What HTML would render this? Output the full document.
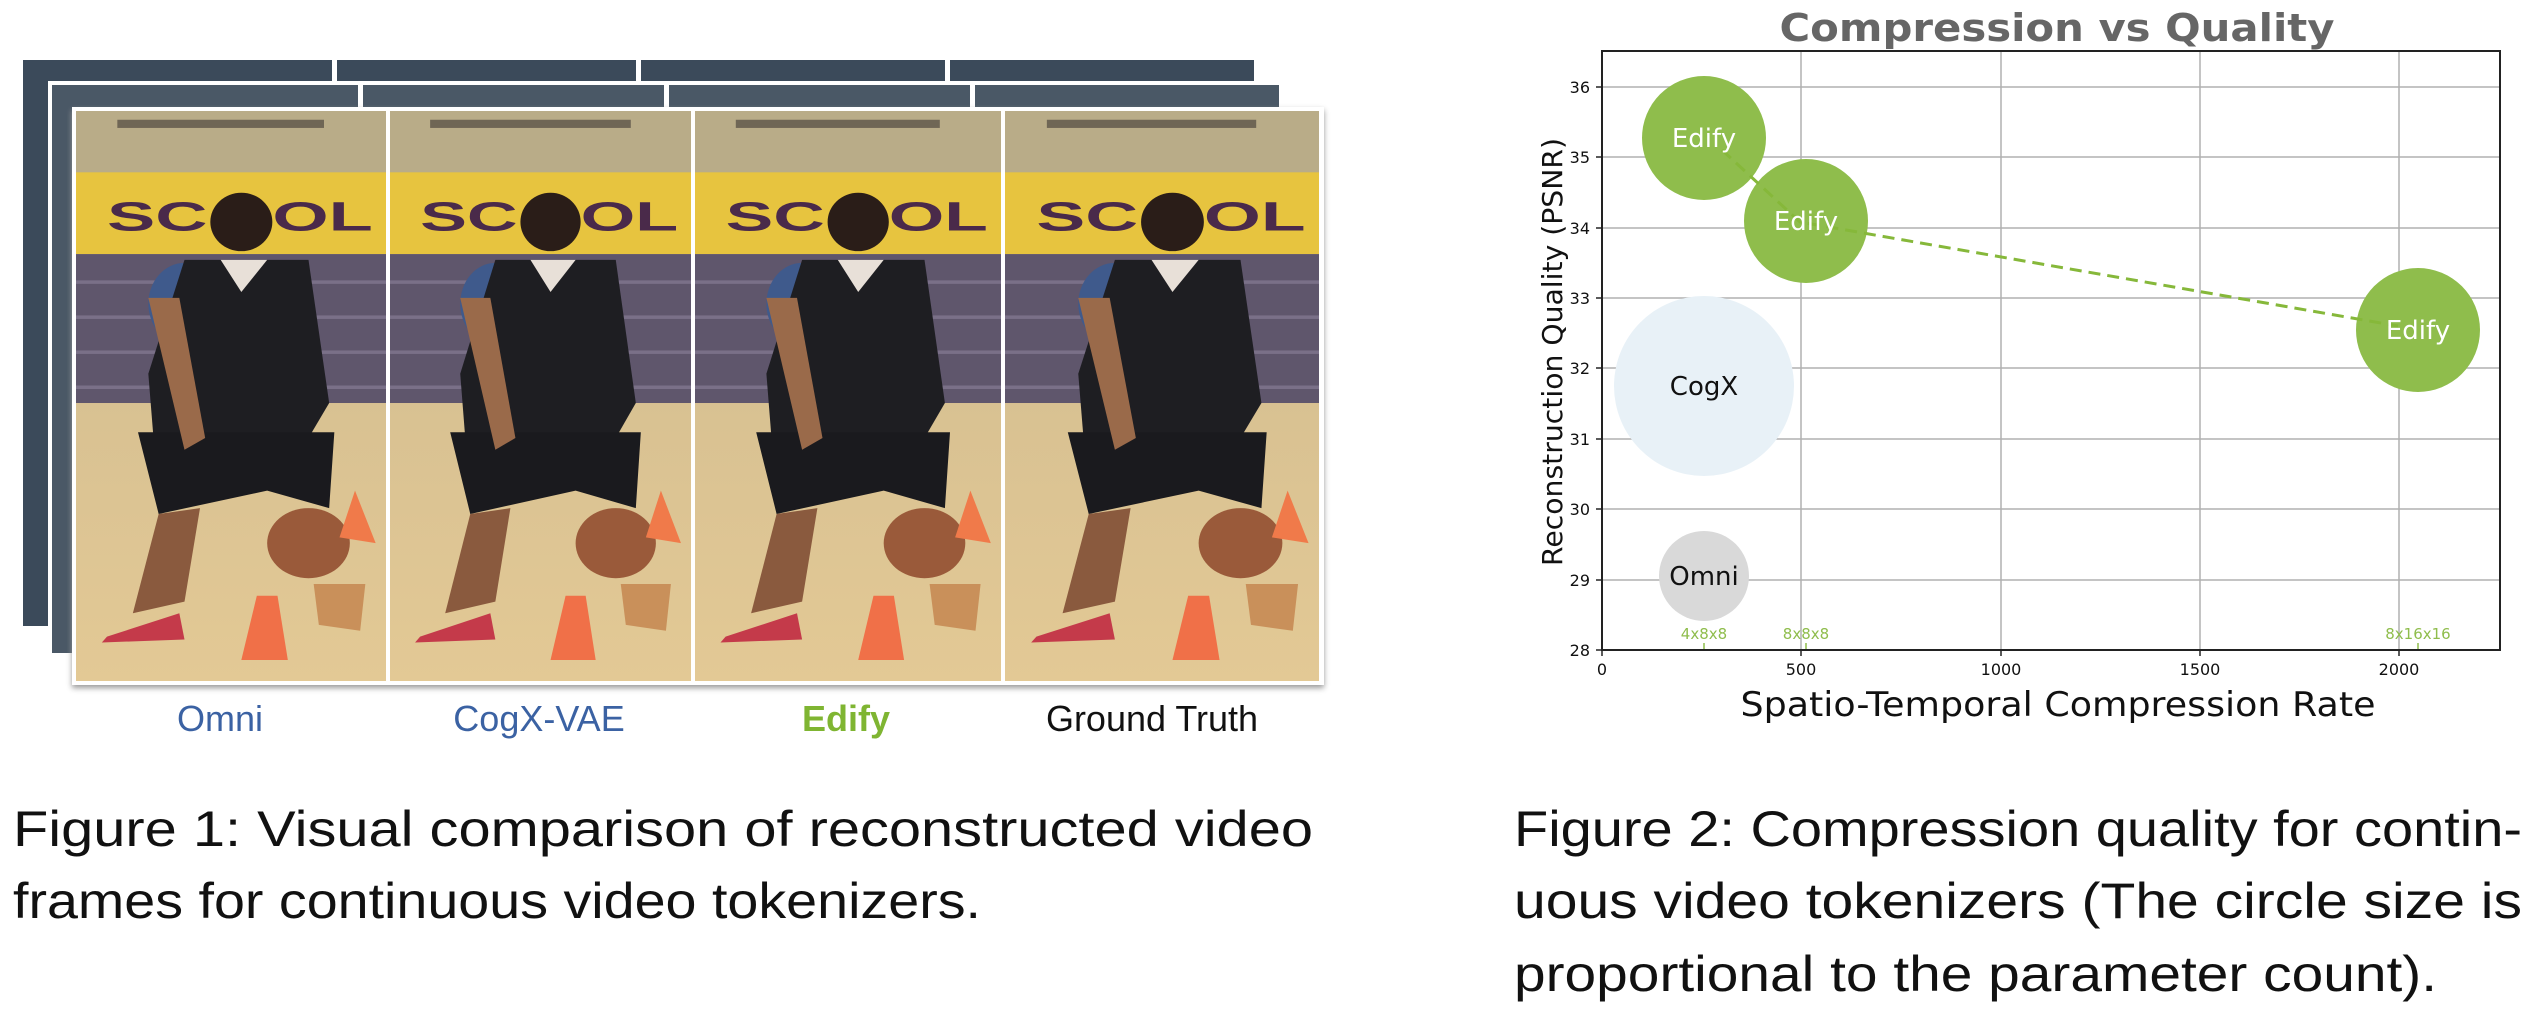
<!DOCTYPE html>
<html><head><meta charset="utf-8"><style>
html,body{margin:0;padding:0;background:#fff;overflow:hidden;}
svg{display:block;}
</style></head><body>
<svg width="2546" height="1012" viewBox="0 0 2546 1012" xmlns="http://www.w3.org/2000/svg">
<defs>
<linearGradient id="floor" x1="0" y1="0" x2="0" y2="1">
<stop offset="0" stop-color="#cdb98f"/><stop offset="1" stop-color="#e3c995"/></linearGradient>
<symbol id="frame" viewBox="0 0 300 976" preserveAspectRatio="none">
<rect x="0" y="0" width="300" height="976" fill="url(#floor)"/>
<rect x="0" y="0" width="300" height="108" fill="#b9ac88"/>
<rect x="40" y="15" width="200" height="14" fill="#6f6655"/>
<rect x="0" y="105" width="300" height="140" fill="#e7c43f"/>
<text x="30" y="205" font-family="Liberation Sans, sans-serif" font-weight="bold" font-size="70" fill="#4a2a4a">SC</text>
<text x="190" y="205" font-family="Liberation Sans, sans-serif" font-weight="bold" font-size="70" fill="#4a2a4a">OL</text>
<rect x="0" y="245" width="300" height="255" fill="#5f566c"/>
<rect x="0" y="290" width="300" height="6" fill="#7a7088"/>
<rect x="0" y="350" width="300" height="6" fill="#7a7088"/>
<rect x="0" y="410" width="300" height="6" fill="#7a7088"/>
<rect x="0" y="470" width="300" height="6" fill="#7a7088"/>
<ellipse cx="105" cy="330" rx="35" ry="70" fill="#3f5a8c"/>
<ellipse cx="160" cy="190" rx="30" ry="50" fill="#2a1d18"/>
<path d="M105 255 L225 255 L245 500 L225 560 L75 560 L70 450 Z" fill="#1e1e22"/>
<path d="M140 255 L160 310 L185 255 Z" fill="#e8e0d8"/>
<path d="M60 550 L250 550 L245 680 L185 650 L80 690 Z" fill="#1a1a1e"/>
<path d="M70 320 L100 320 L125 560 L105 580 Z" fill="#9a6a4a"/>
<path d="M80 690 L120 680 L105 840 L55 860 Z" fill="#8a5a3e"/>
<ellipse cx="225" cy="740" rx="40" ry="60" fill="#9a5a3a"/>
<path d="M30 900 L100 860 L105 905 L25 910 Z" fill="#c43a4a"/>
<path d="M230 810 L280 810 L275 890 L235 880 Z" fill="#c9905a"/>
<path d="M255 730 L270 650 L290 740 Z" fill="#f07a4a"/>
<path d="M160 940 L175 830 L195 830 L205 940 Z" fill="#f07048"/>
</symbol>
</defs>

<rect x="21" y="58" width="1235" height="570" fill="#3b4a5a" stroke="#fff" stroke-width="4"/>
<g fill="#fff"><rect x="332" y="58" width="5" height="28"/><rect x="636" y="58" width="5" height="28"/><rect x="945" y="58" width="5" height="28"/></g>
<rect x="50" y="83" width="1231" height="572" fill="#4a5866" stroke="#fff" stroke-width="4"/>
<g fill="#fff"><rect x="358" y="83" width="5" height="28"/><rect x="664" y="83" width="5" height="28"/><rect x="970" y="83" width="5" height="28"/></g>
<rect x="72" y="107" width="1252" height="578" fill="#fff" style="filter:drop-shadow(0 3px 3px #999)"/>
<use href="#frame" x="76" y="111" width="310" height="570"/>
<use href="#frame" x="390" y="111" width="301" height="570"/>
<use href="#frame" x="695" y="111" width="306" height="570"/>
<use href="#frame" x="1005" y="111" width="314" height="570"/>

<g font-family="Liberation Sans, sans-serif" font-size="36" text-anchor="middle">
<text x="220" y="731" fill="#3b62a3">Omni</text>
<text x="539" y="731" fill="#3b62a3">CogX-VAE</text>
<text x="846" y="731" fill="#7fb532" font-weight="bold">Edify</text>
<text x="1152" y="731" fill="#111">Ground Truth</text>
</g>

<g font-family="Liberation Sans, sans-serif" font-size="50" fill="#111">
<text x="13" y="846" textLength="1300" lengthAdjust="spacingAndGlyphs">Figure 1: Visual comparison of reconstructed video</text>
<text x="13" y="918" textLength="968" lengthAdjust="spacingAndGlyphs">frames for continuous video tokenizers.</text>
<text x="1514" y="846" textLength="1008" lengthAdjust="spacingAndGlyphs">Figure 2: Compression quality for contin-</text>
<text x="1514" y="918" textLength="1008" lengthAdjust="spacingAndGlyphs">uous video tokenizers (The circle size is</text>
<text x="1514" y="991" textLength="923" lengthAdjust="spacingAndGlyphs">proportional to the parameter count).</text>
</g>

<text x="2057" y="41" text-anchor="middle" font-family="DejaVu Sans, sans-serif" font-weight="bold" font-size="38" fill="#666" textLength="555" lengthAdjust="spacingAndGlyphs">Compression vs Quality</text>
<g stroke="#b0b0b0" stroke-width="1.5">
<line x1="1801" y1="51" x2="1801" y2="650"/><line x1="2001" y1="51" x2="2001" y2="650"/>
<line x1="2200" y1="51" x2="2200" y2="650"/><line x1="2399" y1="51" x2="2399" y2="650"/>
<line x1="1602" y1="87" x2="2500" y2="87"/><line x1="1602" y1="157" x2="2500" y2="157"/>
<line x1="1602" y1="228" x2="2500" y2="228"/><line x1="1602" y1="298" x2="2500" y2="298"/>
<line x1="1602" y1="368" x2="2500" y2="368"/><line x1="1602" y1="439" x2="2500" y2="439"/>
<line x1="1602" y1="509" x2="2500" y2="509"/><line x1="1602" y1="580" x2="2500" y2="580"/>
</g>
<ellipse cx="1704" cy="386" rx="90" ry="90" fill="#e8f1f7"/>
<ellipse cx="1704" cy="576" rx="45" ry="45" fill="#d9d9d9"/>
<ellipse cx="1704" cy="138" rx="62" ry="62" fill="#8fbd4c"/>
<ellipse cx="1806" cy="221" rx="62" ry="62" fill="#8fbd4c"/>
<ellipse cx="2418" cy="330" rx="62" ry="62" fill="#8fbd4c"/>
<polyline points="1722,150 1800,222 2398,326" fill="none" stroke="#86b83a" stroke-width="3" stroke-dasharray="12,7"/>
<g font-family="DejaVu Sans, sans-serif" font-size="26" text-anchor="middle">
<text x="1704" y="147" fill="#fff">Edify</text>
<text x="1806" y="230" fill="#fff">Edify</text>
<text x="2418" y="339" fill="#fff">Edify</text>
<text x="1704" y="395" fill="#111">CogX</text>
<text x="1704" y="585" fill="#111">Omni</text>
</g>
<g font-family="DejaVu Sans, sans-serif" font-size="15" fill="#8fbd4c" text-anchor="middle">
<text x="1704" y="639">4x8x8</text><text x="1806" y="639">8x8x8</text><text x="2418" y="639">8x16x16</text>
</g>
<g stroke="#8fbd4c" stroke-width="1.5"><line x1="1704" y1="643" x2="1704" y2="650"/><line x1="1806" y1="643" x2="1806" y2="650"/><line x1="2418" y1="643" x2="2418" y2="650"/></g>
<rect x="1602" y="51" width="898" height="599" fill="none" stroke="#222" stroke-width="2"/>
<g stroke="#222" stroke-width="1.5">
<line x1="1602" y1="650" x2="1602" y2="656"/><line x1="1801" y1="650" x2="1801" y2="656"/><line x1="2001" y1="650" x2="2001" y2="656"/><line x1="2200" y1="650" x2="2200" y2="656"/><line x1="2399" y1="650" x2="2399" y2="656"/>
<line x1="1596" y1="87" x2="1602" y2="87"/><line x1="1596" y1="157" x2="1602" y2="157"/><line x1="1596" y1="228" x2="1602" y2="228"/><line x1="1596" y1="298" x2="1602" y2="298"/><line x1="1596" y1="368" x2="1602" y2="368"/><line x1="1596" y1="439" x2="1602" y2="439"/><line x1="1596" y1="509" x2="1602" y2="509"/><line x1="1596" y1="580" x2="1602" y2="580"/><line x1="1596" y1="650" x2="1602" y2="650"/>
</g>
<g font-family="DejaVu Sans, sans-serif" font-size="16" fill="#111" text-anchor="end">
<text x="1590" y="93">36</text><text x="1590" y="163">35</text><text x="1590" y="234">34</text><text x="1590" y="304">33</text><text x="1590" y="374">32</text><text x="1590" y="445">31</text><text x="1590" y="515">30</text><text x="1590" y="586">29</text><text x="1590" y="656">28</text>
</g>
<g font-family="DejaVu Sans, sans-serif" font-size="16" fill="#111" text-anchor="middle">
<text x="1602" y="675">0</text><text x="1801" y="675">500</text><text x="2001" y="675">1000</text><text x="2200" y="675">1500</text><text x="2399" y="675">2000</text>
</g>
<text x="2058" y="716" text-anchor="middle" font-family="DejaVu Sans, sans-serif" font-size="34" fill="#111" textLength="635" lengthAdjust="spacingAndGlyphs">Spatio-Temporal Compression Rate</text>
<text transform="translate(1562,352) rotate(-90)" text-anchor="middle" font-family="DejaVu Sans, sans-serif" font-size="28" fill="#111" textLength="428" lengthAdjust="spacingAndGlyphs">Reconstruction Quality (PSNR)</text>
</svg>
</body></html>
